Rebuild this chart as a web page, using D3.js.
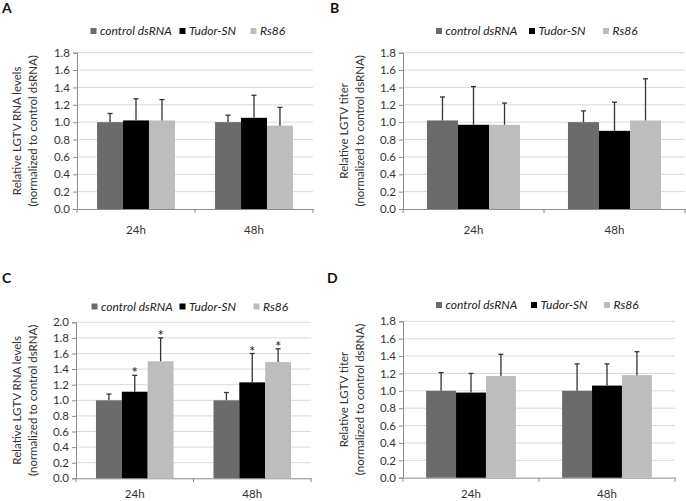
<!DOCTYPE html>
<html><head><meta charset="utf-8">
<script src="https://cdn.jsdelivr.net/npm/d3@7/dist/d3.min.js"></script>
<style>body{margin:0;background:#fff}svg{display:block}text{font-family:Lato,"Open Sans",sans-serif}</style>
</head><body><svg id="c" width="686" height="501"></svg>
<script>
const categories = ["24h", "48h"];
const seriesNames = ["control dsRNA", "Tudor-SN", "Rs86"];
const seriesColors = ["#6b6b6b", "#000000", "#bdbdbd"];

// Panel A: Relative LGTV RNA levels
const aValues = [[1.00, 1.02, 1.02], [1.00, 1.05, 0.96]];
const aErrTop = [[1.10, 1.27, 1.26], [1.08, 1.31, 1.17]];
// Panel B: Relative LGTV titer
const bValues = [[1.02, 0.97, 0.97], [1.00, 0.90, 1.02]];
const bErrTop = [[1.29, 1.41, 1.22], [1.13, 1.23, 1.50]];
// Panel C: Relative LGTV RNA levels
const cValues = [[1.00, 1.11, 1.50], [1.00, 1.23, 1.49]];
const cErrTop = [[1.08, 1.32, 1.80], [1.10, 1.60, 1.66]];
const cStars = [[false, true, true], [false, true, true]];
// Panel D: Relative LGTV titer
const dValues = [[1.00, 0.98, 1.17], [1.00, 1.06, 1.18]];
const dErrTop = [[1.21, 1.20, 1.42], [1.31, 1.31, 1.45]];

const ticks18 = [0, 0.2, 0.4, 0.6, 0.8, 1.0, 1.2, 1.4, 1.6, 1.8];
const ticks20 = [0, 0.2, 0.4, 0.6, 0.8, 1.0, 1.2, 1.4, 1.6, 1.8, 2.0];

const panels = [
  {label:"A", lx:2, ly:13, values:aValues, err:aErrTop, stars:null, ticks:ticks18, ymax:1.8,
   x0:77, x1:313, yT:52.7, yB:209, ylab:["Relative LGTV RNA levels","(normalized to control dsRNA)"], ylx:17,
   legY:31, legX:90.5, legOff:[0,89,160], xlabY:234},
  {label:"B", lx:330, ly:13, values:bValues, err:bErrTop, stars:null, ticks:ticks18, ymax:1.8,
   x0:403, x1:685, yT:52.7, yB:209, ylab:["Relative LGTV titer","(normalized to control dsRNA)"], ylx:344,
   legY:31, legX:436, legOff:[0,93,167], xlabY:234},
  {label:"C", lx:2, ly:283, values:cValues, err:cErrTop, stars:cStars, ticks:ticks20, ymax:2.0,
   x0:76, x1:311, yT:322.3, yB:478.3, ylab:["Relative LGTV RNA levels","(normalized to control dsRNA)"], ylx:17,
   legY:306.5, legX:91.5, legOff:[0,88,162], xlabY:498},
  {label:"D", lx:327, ly:283, values:dValues, err:dErrTop, stars:null, ticks:ticks18, ymax:1.8,
   x0:403, x1:675, yT:321.3, yB:477.7, ylab:["Relative LGTV titer","(normalized to control dsRNA)"], ylx:344,
   legY:305, legX:436, legOff:[0,95,168], xlabY:498}
];

const svg = d3.select("#c");

panels.forEach(p => {
  const g = svg.append("g");
  const y = d3.scaleLinear().domain([0, p.ymax]).range([p.yB, p.yT]);
  const x = d3.scaleBand().domain(categories).range([p.x0, p.x1]).padding(0);
  const xs = d3.scaleBand().domain(seriesNames).range([x.bandwidth()*0.17, x.bandwidth()*0.83]).padding(0);

  g.append("text").attr("x", p.lx).attr("y", p.ly).attr("font-size", 14).attr("font-weight", "bold")
    .attr("fill", "#111").text(p.label);

  g.append("g").selectAll("line").data(p.ticks.filter(t => t > 0)).join("line")
    .attr("x1", p.x0).attr("x2", p.x1).attr("y1", d => y(d)).attr("y2", d => y(d))
    .attr("stroke", "#d9d9d9").attr("stroke-width", 1);

  const ya = g.append("g").attr("transform", `translate(${p.x0},0)`)
    .call(d3.axisLeft(y).tickValues(p.ticks).tickFormat(d3.format(".1f")).tickSize(4).tickPadding(3));
  ya.select(".domain").attr("stroke", "#8c8c8c");
  ya.selectAll(".tick line").attr("stroke", "#8c8c8c");
  ya.selectAll("text").attr("font-size", 11.5).attr("fill", "#333").attr("font-family", "Lato");

  const xa = g.append("g").attr("transform", `translate(0,${p.yB})`)
    .call(d3.axisBottom(x).tickSize(0).tickFormat(""));
  xa.select(".domain").attr("stroke", "#8c8c8c");
  xa.selectAll(".tick").remove();
  const bounds = [p.x0, ...categories.slice(1).map(c => x(c)), p.x1];
  g.append("g").selectAll("line").data(bounds).join("line")
    .attr("x1", d => d).attr("x2", d => d).attr("y1", p.yB).attr("y2", p.yB + 4)
    .attr("stroke", "#8c8c8c");
  g.append("g").selectAll("text").data(categories).join("text")
    .attr("x", d => x(d) + x.bandwidth()/2).attr("y", p.xlabY)
    .attr("text-anchor", "middle").attr("font-size", 11.5).attr("fill", "#333").text(d => d);

  categories.forEach((cat, ci) => {
    const gg = g.append("g").attr("transform", `translate(${x(cat)},0)`);
    seriesNames.forEach((s, si) => {
      const v = p.values[ci][si], e = p.err[ci][si];
      const bx = xs(s), bw = xs.bandwidth();
      gg.append("rect").attr("x", bx).attr("width", bw).attr("y", y(v)).attr("height", y(0) - y(v))
        .attr("fill", seriesColors[si]);
      const cx = bx + bw/2;
      gg.append("line").attr("x1", cx).attr("x2", cx).attr("y1", y(v)).attr("y2", y(e))
        .attr("stroke", "#333").attr("stroke-width", 1.3);
      gg.append("line").attr("x1", cx - 2.5).attr("x2", cx + 2.5).attr("y1", y(e)).attr("y2", y(e))
        .attr("stroke", "#333").attr("stroke-width", 1.3);
      if (p.stars && p.stars[ci][si]) {
        gg.append("text").attr("x", cx).attr("y", y(e) + 3).attr("text-anchor", "middle")
          .attr("font-size", 15).attr("fill", "#222").text("*");
      }
    });
  });

  const cy = (p.yT + p.yB) / 2;
  p.ylab.forEach((t, i) => {
    g.append("text").attr("transform", `translate(${p.ylx + i*16},${cy}) rotate(-90)`)
      .attr("text-anchor", "middle").attr("dy", "0.35em").attr("font-size", 11.5).attr("fill", "#333").text(t);
  });

  seriesNames.forEach((s, si) => {
    const lx = p.legX + p.legOff[si];
    g.append("rect").attr("x", lx).attr("y", p.legY - 3).attr("width", 6).attr("height", 6).attr("fill", seriesColors[si]);
    g.append("text").attr("x", lx + 9.5).attr("y", p.legY).attr("dy", "0.35em").attr("font-size", 12)
      .attr("font-style", "italic").attr("fill", "#222").text(s);
  });
});
</script></body></html>
